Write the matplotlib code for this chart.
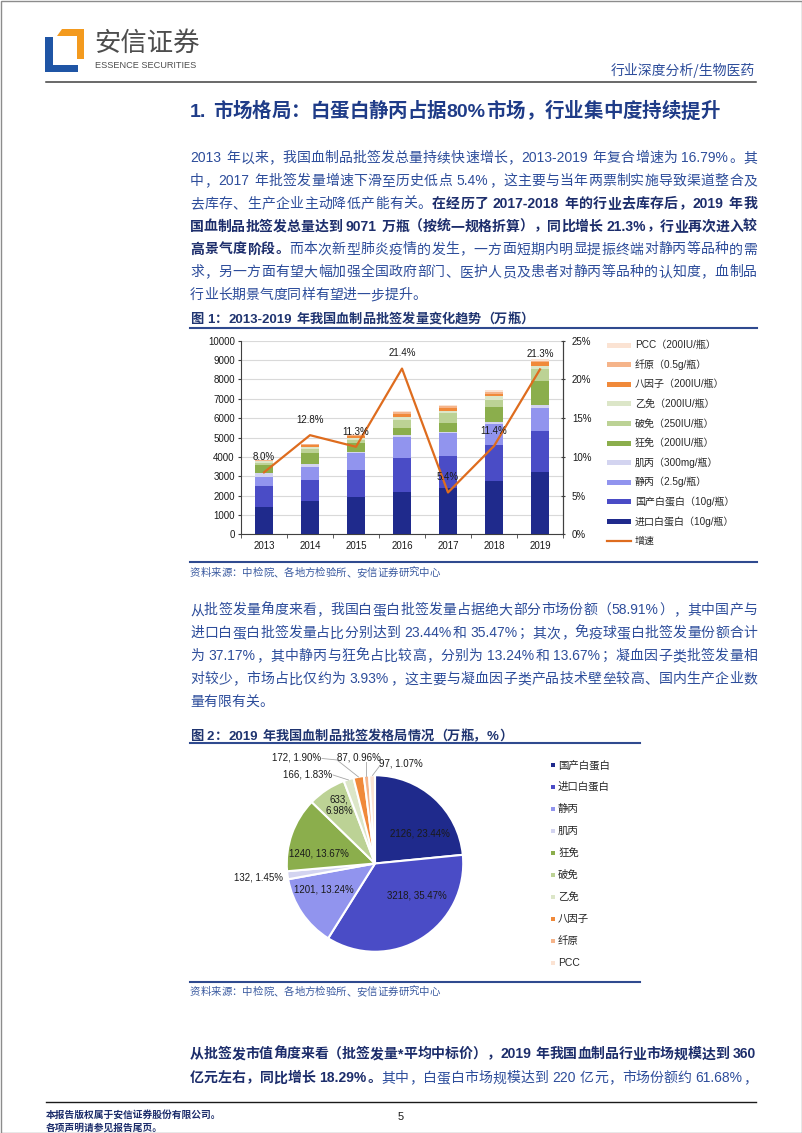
import numpy as np
import matplotlib
matplotlib.use("Agg")
import matplotlib.pyplot as plt
from matplotlib.patches import Rectangle, Polygon
from matplotlib.lines import Line2D
from matplotlib.font_manager import FontProperties

# ---- data ----
years = ['2013', '2014', '2015', '2016', '2017', '2018', '2019']
# stacked series, bottom to top (万瓶)
imp_alb = [1430, 1700, 1910, 2200, 2375, 2750, 3218]   # 进口白蛋白
dom_alb = [1050, 1090, 1410, 1725, 1685, 1865, 2126]   # 国产白蛋白
ivig = [500, 685, 860, 1085, 1155, 1100, 1201]         # 静丙
im_ig = [170, 140, 90, 120, 85, 110, 132]              # 肌丙
rabies = [430, 565, 430, 345, 465, 760, 1240]          # 狂免
tetanus = [100, 210, 170, 430, 485, 370, 633]          # 破免
hepb = [90, 135, 120, 170, 135, 170, 166]              # 乙免
f8 = [40, 85, 105, 125, 120, 130, 172]                 # 八因子
fib = [20, 30, 40, 100, 105, 100, 87]                  # 纤原
pcc = [10, 20, 30, 70, 85, 80, 97]                     # PCC
growth = [8.0, 12.8, 11.3, 21.4, 5.4, 11.4, 21.3]      # 增速 %

bar_names = ['进口白蛋白（10g/瓶）', '国产白蛋白（10g/瓶）', '静丙（2.5g/瓶）', '肌丙（300mg/瓶）',
             '狂免（200IU/瓶）', '破免（250IU/瓶）', '乙免（200IU/瓶）', '八因子（200IU/瓶）',
             '纤原（0.5g/瓶）', 'PCC（200IU/瓶）']

pie_names = ['国产白蛋白', '进口白蛋白', '静丙', '肌丙', '狂免', '破免', '乙免', '八因子', '纤原', 'PCC']
pie_vals = [2126, 3218, 1201, 132, 1240, 633, 166, 172, 87, 97]
pie_pcts = ['23.44%', '35.47%', '13.24%', '1.45%', '13.67%', '6.98%', '1.83%', '1.90%', '0.96%', '1.07%']

c_navy = '#1F2A8C'
c_blue = '#4A4CC6'
colors = [c_navy, c_blue, '#9194EE', '#D3D4F0', '#8BAE4C', '#BCD295', '#DCE6C8',
          '#F0893A', '#F5B48A', '#FBE3D3']
c_line = '#DE6C1E'

C_TEXT = '#2D4D9B'
C_BOLD = '#1C2D6B'
FAM = ['Liberation Sans', 'Noto Sans CJK SC', 'DejaVu Sans']

W, H = 802, 1133
fig = plt.figure(figsize=(W / 100, H / 100), dpi=100)
renderer = fig.canvas.get_renderer()


def fx(x):
    return x / W


def fy(y):
    return 1 - y / H


def tokens(s):
    out, buf = [], ''
    for c in s:
        if c == ' ':
            if buf:
                out.append(buf)
                buf = ''
            out.append(' ')
        elif ord(c) > 0x2E7F:
            if buf:
                out.append(buf)
                buf = ''
            out.append(c)
        else:
            buf += c
    if buf:
        out.append(buf)
    return out


def draw_line(y, segs, size=10, x0=190, x1=757, justify=True, colors_=(C_TEXT, C_BOLD)):
    em = size * 100 / 72
    items = []
    for txt, bold in segs:
        fp = FontProperties(family=FAM, size=size, weight='bold' if bold else 'normal')
        col = colors_[1] if bold else colors_[0]
        for t in tokens(txt):
            if t == ' ':
                w = 0.28 * em
            elif ord(t[0]) > 0x2E7F:
                w = em
            else:
                w = renderer.get_text_width_height_descent(t, fp, ismath=False)[0] + 0.06 * em
            items.append((t, w, fp, col))
    total = sum(it[1] for it in items)
    gap = (x1 - x0 - total) / (len(items) - 1) if justify else 0
    x = x0
    base = y + 0.38 * em
    for t, w, fp, col in items:
        if t != ' ':
            fig.text(fx(x), fy(base), t, fontproperties=fp, color=col, ha='left', va='baseline')
        x += w + gap


def hline(y, x0, x1, color, lw):
    fig.add_artist(Line2D([fx(x0), fx(x1)], [fy(y), fy(y)], color=color, lw=lw))


# ---- page frame and header ----
fig.add_artist(Rectangle((0.5 / W, 0.5 / H), 1 - 1 / W, 1 - 1 / H, fill=False,
                         edgecolor='#8C8C8C', lw=1))
fig.add_artist(Polygon([(fx(45), fy(37)), (fx(53), fy(37)), (fx(53), fy(65)), (fx(78), fy(65)),
                        (fx(78), fy(72)), (fx(45), fy(72))], closed=True, color='#1F55A5', lw=0))
fig.add_artist(Polygon([(fx(62), fy(29)), (fx(84), fy(29)), (fx(84), fy(59)), (fx(77), fy(59)),
                        (fx(77), fy(36)), (fx(57), fy(36))], closed=True, color='#F39A1E', lw=0))
fig.text(fx(94), fy(43), '安信证券', family=['Noto Sans CJK SC'], fontsize=19,
         color='#4D4D4D', ha='left', va='center')
fig.text(fx(95), fy(66), 'ESSENCE SECURITIES', family=['Liberation Sans', 'DejaVu Sans'],
         fontsize=6.6, color='#4D4D4D', ha='left', va='center')
fig.text(fx(755), fy(70), '行业深度分析/生物医药', family=['Noto Sans CJK SC', 'DejaVu Sans'],
         fontsize=10, color=C_TEXT, ha='right', va='center')
hline(82, 46, 756, '#404040', 1.1)

# ---- section title and paragraph 1 ----
draw_line(110, [('1. 市场格局：白蛋白静丙占据80%市场，行业集中度持续提升', True)], size=14,
          justify=False, colors_=(C_BOLD, '#1F3C88'))

p1 = [
    [('2013 年以来，我国血制品批签发总量持续快速增长，2013-2019 年复合增速为 16.79%。其', False)],
    [('中，2017 年批签发量增速下滑至历史低点 5.4%，这主要与当年两票制实施导致渠道整合及', False)],
    [('去库存、生产企业主动降低产能有关。', False), ('在经历了 2017-2018 年的行业去库存后，2019 年我', True)],
    [('国血制品批签发总量达到 9071 万瓶（按统一规格折算），同比增长 21.3%，行业再次进入较', True)],
    [('高景气度阶段。', True), ('而本次新型肺炎疫情的发生，一方面短期内明显提振终端对静丙等品种的需', False)],
    [('求，另一方面有望大幅加强全国政府部门、医护人员及患者对静丙等品种的认知度，血制品', False)],
    [('行业长期景气度同样有望进一步提升。', False)],
]
for i, segs in enumerate(p1):
    draw_line(157 + i * 22.8, segs, justify=(i < len(p1) - 1))

# ---- figure 1 ----
draw_line(318, [('图 1：2013-2019 年我国血制品批签发量变化趋势（万瓶）', True)], size=9.5,
          justify=False, colors_=(C_BOLD, '#1F3470'))
hline(328, 190, 757, '#2F4A8F', 1.5)

ax = fig.add_axes([fx(241), fy(534.3), (563 - 241) / W, (534.3 - 340.7) / H])
x = np.arange(len(years))
series = [imp_alb, dom_alb, ivig, im_ig, rabies, tetanus, hepb, f8, fib, pcc]
bottom = np.zeros(len(years))
for vals, col in zip(series, colors):
    ax.bar(x, vals, 0.4, bottom=bottom, color=col, zorder=3)
    bottom += np.array(vals)
ax.set_xlim(-0.5, 6.5)
ax.set_ylim(0, 10000)
ax.set_yticks(range(0, 10001, 1000))
ax.yaxis.grid(True, color='#D9D9D9', lw=0.8, zorder=0)
ax.set_axisbelow(True)
ax.set_xticks(x)
ax.set_xticklabels(years)
ax.set_xticks(np.arange(-0.5, 7, 1), minor=True)
ax.tick_params(axis='x', which='major', length=0, pad=5, labelsize=7)
ax.tick_params(axis='x', which='minor', length=3, direction='out', color='#404040')
ax.tick_params(axis='y', length=2.5, direction='out', pad=2, labelsize=7, color='#404040')
for lab in ax.get_xticklabels() + ax.get_yticklabels():
    lab.set_family(FAM)
    lab.set_color('#1A1A1A')
ax.spines['top'].set_visible(False)
for s in ['left', 'bottom', 'right']:
    ax.spines[s].set_color('#404040')
    ax.spines[s].set_linewidth(0.8)

ax2 = ax.twinx()
ax2.plot(x, growth, color=c_line, lw=1.6, zorder=5)
ax2.set_ylim(0, 25)
ax2.set_yticks(range(0, 26, 5))
ax2.set_yticklabels([f'{v}%' for v in range(0, 26, 5)])
ax2.tick_params(axis='y', length=3, direction='inout', pad=5, labelsize=7, color='#404040')
for lab in ax2.get_yticklabels():
    lab.set_family(FAM)
    lab.set_color('#1A1A1A')
for s in ['top', 'left', 'bottom']:
    ax2.spines[s].set_visible(False)
ax2.spines['right'].set_color('#404040')
ax2.spines['right'].set_linewidth(0.8)
for xi, g in zip(x, growth):
    ax2.annotate(f'{g:.1f}%', (xi, g), xytext=(0, 11), textcoords='offset points',
                 ha='center', va='center', fontsize=7, family=FAM, color='#1A1A1A', zorder=6)

# legend 1 (top to bottom: PCC ... 进口白蛋白, 增速)
leg_y0, leg_dy = 345, 19.6
for k, (name, col) in enumerate(zip(bar_names[::-1], colors[::-1])):
    yy = leg_y0 + k * leg_dy
    fig.add_artist(Rectangle((fx(607), fy(yy + 2.5)), 24 / W, 5 / H, color=col, lw=0))
    fig.text(fx(635), fy(yy), name, family=FAM, fontsize=7.2, color='#262626',
             ha='left', va='center')
yy = leg_y0 + len(bar_names) * leg_dy
fig.add_artist(Line2D([fx(607), fx(631)], [fy(yy), fy(yy)], color=c_line, lw=1.6))
fig.text(fx(635), fy(yy), '增速', family=FAM, fontsize=7.2, color='#262626', ha='left', va='center')

hline(562, 190, 757, '#2F4A8F', 1.5)
draw_line(572, [('资料来源：中检院、各地方检验所、安信证券研究中心', False)], size=7.5,
          justify=False, colors_=('#3A5AA0', '#3A5AA0'))

# ---- paragraph 2 ----
p2 = [
    '从批签发量角度来看，我国白蛋白批签发量占据绝大部分市场份额（58.91%），其中国产与',
    '进口白蛋白批签发量占比分别达到 23.44%和 35.47%；其次，免疫球蛋白批签发量份额合计',
    '为 37.17%，其中静丙与狂免占比较高，分别为 13.24%和 13.67%；凝血因子类批签发量相',
    '对较少，市场占比仅约为 3.93%，这主要与凝血因子类产品技术壁垒较高、国内生产企业数',
    '量有限有关。',
]
for i, s in enumerate(p2):
    draw_line(609 + i * 23, [(s, False)], justify=(i < len(p2) - 1))

# ---- figure 2 ----
draw_line(735, [('图 2：2019 年我国血制品批签发格局情况（万瓶，%）', True)], size=9.5,
          justify=False, colors_=(C_BOLD, '#1F3470'))
hline(743, 190, 640, '#2F4A8F', 1.5)

cx, cy, R = 375, 863.5, 88.2
axp = fig.add_axes([fx(cx - 150), fy(cy + 150), 300 / W, 300 / H])
axp.pie(pie_vals, colors=colors, startangle=90, counterclock=False, radius=1,
        wedgeprops=dict(edgecolor='white', linewidth=1.5))
axp.set_xlim(-1.7, 1.7)
axp.set_ylim(-1.7, 1.7)
axp.set_aspect('equal')
axp.axis('off')


def P(px, py):
    return ((px - cx) / R, (cy - py) / R)


lab_kw = dict(fontsize=7, family=FAM, color='#1A1A1A', va='center')
# label text positions (pixels on page)
lab_pos = [(420, 834), (417, 895), (324, 889), (283, 877), (319, 854), (339, 805.5),
           (308, 774.3), (296.7, 757.3), (359.3, 757.3), (400.5, 763.3)]
lab_ha = ['center', 'center', 'center', 'right', 'center', 'center', 'center', 'center',
          'center', 'center']
for k, (v, p) in enumerate(zip(pie_vals, pie_pcts)):
    sep = ',\n' if k == 5 else ', '
    axp.text(*P(*lab_pos[k]), f'{v}{sep}{p}', ha=lab_ha[k], multialignment='center', **lab_kw)

leaders = [
    [(333, 775), (348.5, 780)],
    [(322, 758.5), (337, 760), (358.5, 777)],
    [(366.5, 762.5), (366.5, 776)],
    [(380, 765.5), (372.5, 775.5)],
]
for pts in leaders:
    xs, ys = zip(*[P(*q) for q in pts])
    axp.plot(xs, ys, color='#A6A6A6', lw=0.6)

for k, (name, col) in enumerate(zip(pie_names, colors)):
    yy = 765 + k * 21.97
    fig.add_artist(Rectangle((fx(550.5), fy(yy + 2)), 4 / W, 4 / H, color=col, lw=0))
    fig.text(fx(558), fy(yy), name, family=FAM, fontsize=7.5, color='#262626',
             ha='left', va='center')

hline(982, 190, 640, '#2F4A8F', 1.5)
draw_line(991, [('资料来源：中检院、各地方检验所、安信证券研究中心', False)], size=7.5,
          justify=False, colors_=('#3A5AA0', '#3A5AA0'))

# ---- paragraph 3 ----
draw_line(1053, [('从批签发市值角度来看（批签发量*平均中标价），2019 年我国血制品行业市场规模达到 360', True)])
draw_line(1077, [('亿元左右，同比增长 18.29%。', True),
                 ('其中，白蛋白市场规模达到 220 亿元，市场份额约 61.68%，', False)])

# ---- footer ----
hline(1102, 46, 756, '#1A1A1A', 1.0)
fig.text(fx(46), fy(1115), '本报告版权属于安信证券股份有限公司。', family=FAM, fontsize=7,
         weight='bold', color=C_BOLD, ha='left', va='center')
fig.text(fx(46), fy(1128), '各项声明请参见报告尾页。', family=FAM, fontsize=7,
         weight='bold', color=C_BOLD, ha='left', va='center')
fig.text(fx(401), fy(1117), '5', family=FAM, fontsize=8, color='#1A1A1A', ha='center', va='center')

fig.savefig('out.png', dpi=100)
